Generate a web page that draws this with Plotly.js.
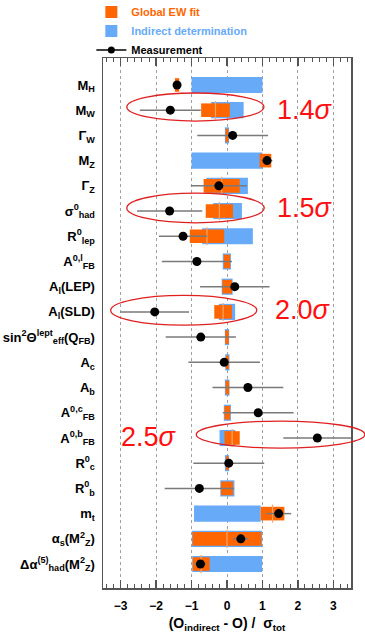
<!DOCTYPE html>
<html>
<head>
<meta charset="utf-8">
<script src="https://cdn.plot.ly/plotly-3.0.1.min.js"></script>
<style>html,body{margin:0;padding:0;background:#fff;}#chart{width:365px;height:640px;}</style>
</head>
<body>
<div id="chart"></div>
<script>
// Observables (y categories, top to bottom)
const observables = [
  '<b>M<sub>H</sub></b>',
  '<b>M<sub>W</sub></b>',
  'Γ<sub>W</sub>',
  '<b>M<sub>Z</sub></b>',
  'Γ<sub>Z</sub>',
  'σ<sup>0</sup><sub>had</sub>',
  '<b>R<sup>0</sup><sub>lep</sub></b>',
  '<b>A<sup>0,l</sup><sub>FB</sub></b>',
  '<b>A<sub>l</sub>(LEP)</b>',
  '<b>A<sub>l</sub>(SLD)</b>',
  '<b>sin<sup>2</sup>Θ<sup>lept</sup><sub>eff</sub>(Q<sub>FB</sub>)</b>',
  '<b>A<sub>c</sub></b>',
  '<b>A<sub>b</sub></b>',
  '<b>A<sup>0,c</sup><sub>FB</sub></b>',
  '<b>A<sup>0,b</sup><sub>FB</sub></b>',
  '<b>R<sup>0</sup><sub>c</sub></b>',
  '<b>R<sup>0</sup><sub>b</sub></b>',
  '<b>m<sub>t</sub></b>',
  'α<sub>s</sub>(<b>M<sup>2</sup><sub>Z</sub></b>)',
  'Δα<sup>(5)</sup><sub>had</sub>(<b>M<sup>2</sup><sub>Z</sub></b>)'
];

// Measurement pull and its half-width
const measValue = [-1.41, -1.60, 0.16, 1.13, -0.23, -1.62, -1.24, -0.85, 0.22, -2.04,
                   -0.74, -0.08, 0.59, 0.88, 2.55, 0.05, -0.78, 1.46, 0.39, -0.75];
const measError = [0.00, 0.86, 1.00, 0.15, 0.79, 0.92, 0.68, 0.99, 0.98, 0.97,
                   0.99, 1.01, 1.00, 1.00, 0.96, 1.00, 0.98, 0.35, 0.22, 0.17];

// Indirect determination (blue) band: low / high
const indirectLow  = [-1.00, -0.45, -0.06, -1.00, -0.58, -0.39, -0.70, -0.12, -0.15, -0.23,
                      -0.06, -0.05, -0.06, -0.09, -0.21, -0.06, -0.19, -0.93, -0.99, -0.98];
const indirectHigh = [ 1.00,  0.47,  0.06,  1.00,  0.59,  0.42,  0.73,  0.11,  0.16,  0.23,
                       0.06,  0.07,  0.07,  0.11,  0.23,  0.06,  0.21,  0.95,  0.99,  0.99];

// Global EW fit (orange) band: low / high
const fitLow  = [-1.47, -0.73, -0.04, 0.92, -0.66, -0.60, -1.05, -0.09, -0.13, -0.36,
                 -0.05, -0.03, -0.04, -0.07, -0.07, -0.03, -0.17, 0.95, -0.97, -0.97];
const fitHigh = [-1.35,  0.08,  0.04, 1.25,  0.36,  0.17, -0.08,  0.09,  0.14,  0.14,
                  0.05,  0.05,  0.06,  0.09,  0.36,  0.05,  0.17, 1.62,  0.97, -0.49];

// Tension labels
const tensionText = ['1.4<i>σ</i>', '1.5<i>σ</i>', '2.0<i>σ</i>', '2.5<i>σ</i>'];

const ORANGE = '#ff6600';
const BLUE = '#66aaf8';
const FONT = 'Liberation Sans, Arial, Helvetica, sans-serif';

// centre line of the wide orange bands
const fitMidX = [], fitMidY = [];
fitLow.forEach((lo, i) => {
  if (fitHigh[i] - lo > 0.4) { fitMidX.push((lo + fitHigh[i]) / 2); fitMidY.push(observables[i]); }
});

const traces = [
  {
    type: 'bar', orientation: 'h', name: '<span style="color:' + BLUE + '">Indirect determination</span>',
    y: observables, base: indirectLow, x: indirectHigh.map((h, i) => h - indirectLow[i]),
    width: 0.64, marker: {color: BLUE, line: {width: 0}}, legendrank: 2, hoverinfo: 'skip'
  },
  {
    type: 'bar', orientation: 'h', name: '<span style="color:' + ORANGE + '">Global EW fit</span>',
    y: observables, base: fitLow, x: fitHigh.map((h, i) => h - fitLow[i]),
    width: 0.54, marker: {color: ORANGE, line: {width: 0}}, legendrank: 1, hoverinfo: 'skip'
  },
  {
    type: 'scatter', mode: 'markers', x: fitMidX, y: fitMidY, showlegend: false, hoverinfo: 'skip',
    marker: {symbol: 'line-ns', size: 13, line: {color: '#ffa366', width: 1.2}}
  },
  {
    type: 'scatter', mode: 'markers', x: measValue, y: observables, showlegend: false,
    legendgroup: 'meas', cliponaxis: true,
    marker: {color: '#000', size: 9},
    error_x: {type: 'data', array: measError, color: '#7a7a7a', thickness: 1.5, width: 0}
  },
  {
    type: 'scatter', mode: 'lines+markers', x: [null], y: [null], legendgroup: 'meas',
    name: '<span style="color:#000">Measurement</span>', legendrank: 3,
    marker: {color: '#000', size: 7}, line: {color: '#000', width: 1.5}
  }
];

const ellipses = [
  {x0: 0.096, x1: 0.649, y0: 0.881, y1: 0.934},
  {x0: 0.096, x1: 0.650, y0: 0.689, y1: 0.745},
  {x0: 0.031, x1: 0.620, y0: 0.496, y1: 0.552},
  {x0: 0.376, x1: 1.056, y0: 0.264, y1: 0.315}
].map(e => Object.assign({type: 'circle', xref: 'paper', yref: 'paper',
  line: {color: '#e02020', width: 1.3}, fillcolor: 'rgba(0,0,0,0)', layer: 'above'}, e));

const labelPos = [[0.694, 0.902], [0.694, 0.717], [0.685, 0.525], [0.065, 0.285]];
const annotations = tensionText.map((t, i) => ({
  text: t, xref: 'paper', yref: 'paper', x: labelPos[i][0], y: labelPos[i][1],
  xanchor: 'left', yanchor: 'middle', showarrow: false,
  font: {family: FONT, size: 27, color: '#ff1010'}
}));

const layout = {
  width: 365, height: 640,
  margin: {l: 103, r: 14, t: 58, b: 52, autoexpand: false},
  paper_bgcolor: '#fff', plot_bgcolor: '#fff',
  font: {family: FONT, color: '#000'},
  barmode: 'overlay',
  showlegend: true,
  legend: {
    x: -0.047, y: 1.114, xanchor: 'left', yanchor: 'top',
    font: {family: FONT, size: 11, weight: 'bold'},
    bgcolor: 'rgba(0,0,0,0)', borderwidth: 0, itemwidth: 30, tracegroupgap: 0
  },
  xaxis: {
    range: [-3.5, 3.5], tick0: -3, dtick: 1, ticks: 'inside', ticklen: 8, tickwidth: 1.5,
    tickcolor: '#555', showline: true, linecolor: '#555', linewidth: 1.5, mirror: 'ticks',
    showgrid: true, gridcolor: '#a0a0a0', griddash: 'dot', gridwidth: 1, zeroline: false,
    minor: {dtick: 0.2, ticks: 'inside', ticklen: 4, tickcolor: '#555', tickwidth: 1, showgrid: false},
    tickfont: {family: FONT, size: 12, weight: 'bold'}, ticklabelstandoff: 6,
    title: {text: '(O<sub>indirect</sub> - O) /  σ<sub>tot</sub>', font: {family: FONT, size: 14, weight: 'bold'}, standoff: 6},
    fixedrange: true
  },
  yaxis: {
    type: 'category', categoryorder: 'array', categoryarray: observables,
    range: [19.95, -1.07], ticks: '', showline: true, linecolor: '#555', linewidth: 1.5, mirror: true,
    showgrid: false, zeroline: false, ticklabelstandoff: 4,
    tickfont: {family: FONT, size: 13, weight: 'bold'}, fixedrange: true
  },
  shapes: ellipses,
  annotations: annotations
};

Plotly.newPlot('chart', traces, layout, {displayModeBar: false, staticPlot: true});
</script>
</body>
</html>
